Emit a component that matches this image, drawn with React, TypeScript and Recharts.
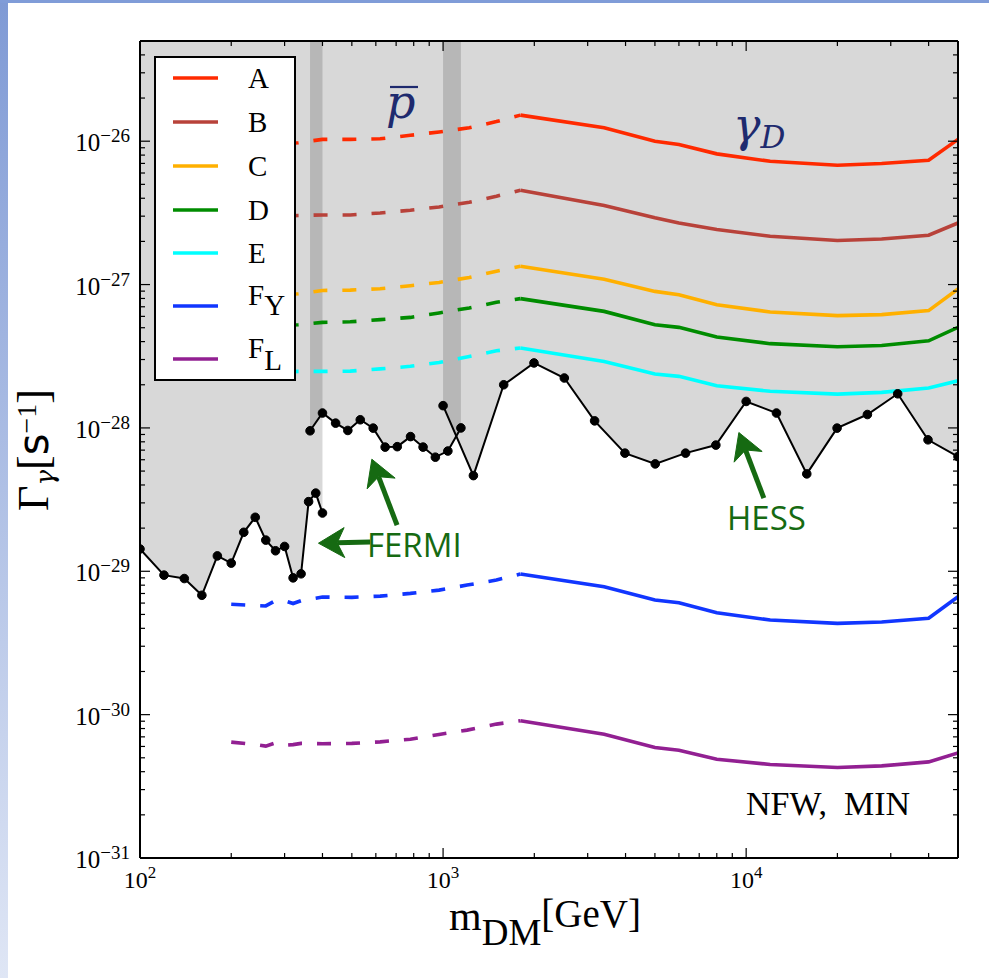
import React from "react";
import { ComposedChart, Line, Area, XAxis, YAxis, ReferenceLine } from "recharts";

/* ── Data: x = m_DM [GeV], y = Γ_γ [1/s] ─────────────────── */

// Fermi-LAT line limits (two energy windows) and H.E.S.S. limits
const M_FERMI_LOW = [100, 120, 140, 160, 180, 200, 220, 240, 260, 280, 300, 320, 340, 360, 380, 400];
const V_FERMI_LOW = [1.43e-29, 9.4e-30, 8.9e-30, 6.8e-30, 1.28e-29, 1.14e-29, 1.87e-29, 2.38e-29, 1.65e-29, 1.39e-29, 1.49e-29, 9.0e-30, 9.6e-30, 3.06e-29, 3.51e-29, 2.55e-29];

const M_FERMI_HIGH = [364, 400, 442, 485, 533, 588, 644, 706, 781, 859, 943, 1037, 1145];
const V_FERMI_HIGH = [9.55e-29, 1.27e-28, 1.08e-28, 9.6e-29, 1.14e-28, 9.97e-29, 7.35e-29, 7.4e-29, 8.7e-29, 7.35e-29, 6.25e-29, 6.9e-29, 1.0e-28];

const M_HESS = [1000, 1259, 1585, 1995, 2512, 3162, 3981, 5012, 6310, 7943, 10000, 12589, 15849, 19953, 25119, 31623, 39811, 50000];
const V_HESS = [1.43e-28, 4.65e-29, 2.0e-28, 2.84e-28, 2.23e-28, 1.12e-28, 6.67e-29, 5.61e-29, 6.67e-29, 7.59e-29, 1.53e-28, 1.27e-28, 4.78e-29, 9.97e-29, 1.24e-28, 1.73e-28, 8.26e-29, 6.31e-29];

// model predictions: dashed below 1.8 TeV, solid above
const M_DASH_AE = [300, 333, 400, 494, 620, 780, 970, 1220, 1500, 1800];
const M_DASH_F = [200, 240, 260, 280, 300, 320, 340, 400, 500, 620, 780, 970, 1200, 1500, 1800];
const M_SOLID = [1800, 3400, 5000, 6000, 8000, 12000, 20000, 28000, 40000, 50000];

const A_DASH = [9.6e-27, 9.75e-27, 1.03e-26, 1.03e-26, 1.04e-26, 1.1e-26, 1.16e-26, 1.24e-26, 1.37e-26, 1.52e-26];
const B_DASH = [3.0e-27, 3.03e-27, 3.06e-27, 3.06e-27, 3.16e-27, 3.3e-27, 3.48e-27, 3.75e-27, 4.13e-27, 4.55e-27];
const C_DASH = [8.5e-28, 8.63e-28, 9.1e-28, 9.15e-28, 9.36e-28, 9.82e-28, 1.035e-27, 1.12e-27, 1.24e-27, 1.34e-27];
const D_DASH = [5.2e-28, 5.25e-28, 5.45e-28, 5.5e-28, 5.69e-28, 5.9e-28, 6.34e-28, 6.87e-28, 7.52e-28, 7.98e-28];
const E_DASH = [2.45e-28, 2.48e-28, 2.48e-28, 2.49e-28, 2.58e-28, 2.69e-28, 2.86e-28, 3.15e-28, 3.45e-28, 3.61e-28];
const FY_DASH = [5.89e-30, 5.77e-30, 5.73e-30, 6.24e-30, 6.24e-30, 5.96e-30, 6.24e-30, 6.61e-30, 6.58e-30, 6.71e-30, 7.01e-30, 7.39e-30, 8.01e-30, 8.69e-30, 9.57e-30];
const FL_DASH = [6.43e-31, 6.18e-31, 6.03e-31, 6.36e-31, 6.12e-31, 6.18e-31, 6.3e-31, 6.27e-31, 6.3e-31, 6.46e-31, 6.74e-31, 7.28e-31, 7.8e-31, 8.59e-31, 9.06e-31];

const A_SOLID = [1.52e-26, 1.24e-26, 1.0e-26, 9.48e-27, 8.16e-27, 7.24e-27, 6.79e-27, 6.99e-27, 7.36e-27, 1.03e-26];
const B_SOLID = [4.55e-27, 3.56e-27, 2.92e-27, 2.69e-27, 2.42e-27, 2.17e-27, 2.03e-27, 2.08e-27, 2.21e-27, 2.69e-27];
const C_SOLID = [1.34e-27, 1.09e-27, 8.96e-28, 8.5e-28, 7.24e-28, 6.44e-28, 6.07e-28, 6.17e-28, 6.58e-28, 9.31e-28];
const D_SOLID = [7.98e-28, 6.5e-28, 5.25e-28, 5.03e-28, 4.31e-28, 3.87e-28, 3.68e-28, 3.76e-28, 4.05e-28, 5.03e-28];
const E_SOLID = [3.61e-28, 2.91e-28, 2.38e-28, 2.29e-28, 1.97e-28, 1.8e-28, 1.72e-28, 1.77e-28, 1.9e-28, 2.13e-28];
const FY_SOLID = [9.57e-30, 7.8e-30, 6.3e-30, 6.04e-30, 5.14e-30, 4.57e-30, 4.33e-30, 4.43e-30, 4.7e-30, 6.65e-30];
const FL_SOLID = [9.06e-31, 7.31e-31, 5.9e-31, 5.65e-31, 4.89e-31, 4.49e-31, 4.28e-31, 4.39e-31, 4.68e-31, 5.41e-31];

// axis ticks
const X_TICKS = [100, 200, 300, 400, 500, 600, 700, 800, 900, 1000, 2000, 3000, 4000, 5000, 6000, 7000, 8000, 9000, 10000, 20000, 30000, 40000, 50000];
const Y_TICKS = [
  1e-31, 2e-31, 3e-31, 4e-31, 5e-31, 6e-31, 7e-31, 8e-31, 9e-31,
  1e-30, 2e-30, 3e-30, 4e-30, 5e-30, 6e-30, 7e-30, 8e-30, 9e-30,
  1e-29, 2e-29, 3e-29, 4e-29, 5e-29, 6e-29, 7e-29, 8e-29, 9e-29,
  1e-28, 2e-28, 3e-28, 4e-28, 5e-28, 6e-28, 7e-28, 8e-28, 9e-28,
  1e-27, 2e-27, 3e-27, 4e-27, 5e-27, 6e-27, 7e-27, 8e-27, 9e-27,
  1e-26, 2e-26, 3e-26, 4e-26, 5e-26,
];

// arrow annotations, [m, Γ] tail -> tip
const ARROWS = [
  { from: [705, 2.1e-29], to: [582, 6.05e-29] },
  { from: [575, 1.6e-29], to: [388, 1.57e-29] },
  { from: [11440, 3.24e-29], to: [9461, 9.29e-29] },
];

/* ── Styles ──────────────────────────────────── */
const W = 989;
const H = 978;
const SERIF = '"Liberation Serif", "Times New Roman", serif';
const MATH = '"DejaVu Serif", serif';
const SANS = '"Open Sans", "DejaVu Sans", sans-serif';
const GREEN = "#166a12";
const NAVY = "#1e2a6e";

const MODELS = [
  { key: "A", sub: "", color: "#ff2a00", dash: A_DASH, solid: A_SOLID, mDash: M_DASH_AE },
  { key: "B", sub: "", color: "#b8423a", dash: B_DASH, solid: B_SOLID, mDash: M_DASH_AE },
  { key: "C", sub: "", color: "#ffb000", dash: C_DASH, solid: C_SOLID, mDash: M_DASH_AE },
  { key: "D", sub: "", color: "#008c00", dash: D_DASH, solid: D_SOLID, mDash: M_DASH_AE },
  { key: "E", sub: "", color: "#00ffff", dash: E_DASH, solid: E_SOLID, mDash: M_DASH_AE },
  { key: "F", sub: "Y", color: "#1136ff", dash: FY_DASH, solid: FY_SOLID, mDash: M_DASH_F },
  { key: "F", sub: "L", color: "#922092", dash: FL_DASH, solid: FL_SOLID, mDash: M_DASH_F },
];
const LEGEND_ROW_Y = [78, 122, 166, 210, 253, 306, 359];

const pts = (ms: number[], vs: number[]) => ms.map((m, i) => ({ m, v: vs[i] }));
const isMajor = (v: number) => Math.abs(Math.log10(v) - Math.round(Math.log10(v))) < 1e-6;
const expLabel = (v: number) => {
  const n = Math.round(Math.log10(v));
  return n < 0 ? "\u2212" + Math.abs(n) : String(n);
};

/* ── Ticks (drawn inward, matplotlib style) ─── */
function BottomTick({ x, y, payload }: any) {
  const major = isMajor(payload.value);
  return (
    <g>
      <line x1={x} x2={x} y1={y} y2={y - (major ? 10 : 5)} stroke="#000" strokeWidth={1.2} />
      {major && (
        <text x={x} y={y + 30} textAnchor="middle" fontFamily={SERIF} fontSize={24} fill="#000">
          10<tspan dy={-10} fontSize={17}>{expLabel(payload.value)}</tspan>
        </text>
      )}
    </g>
  );
}

function TopTick({ x, y, payload }: any) {
  const major = isMajor(payload.value);
  return <line x1={x} x2={x} y1={y} y2={y + (major ? 10 : 5)} stroke="#000" strokeWidth={1.2} />;
}

function LeftTick({ x, y, payload }: any) {
  const major = isMajor(payload.value);
  return (
    <g>
      <line x1={x} x2={x + (major ? 10 : 5)} y1={y} y2={y} stroke="#000" strokeWidth={1.2} />
      {major && (
        <text x={x - 10} y={y + 10} textAnchor="end" fontFamily={SERIF} fontSize={25} fill="#000">
          10<tspan dy={-9} fontSize={19}>{expLabel(payload.value)}</tspan>
        </text>
      )}
    </g>
  );
}

function RightTick({ x, y, payload }: any) {
  const major = isMajor(payload.value);
  return <line x1={x} x2={x - (major ? 10 : 5)} y1={y} y2={y} stroke="#000" strokeWidth={1.2} />;
}

function ArrowShape(p: any) {
  const { x1, y1, x2, y2 } = p;
  const dx = x2 - x1;
  const dy = y2 - y1;
  const len = Math.hypot(dx, dy) || 1;
  const ux = dx / len;
  const uy = dy / len;
  const L = 26;
  const Wd = 15;
  const bx = x2 - ux * L;
  const by = y2 - uy * L;
  const nx = x2 - ux * L * 0.72;
  const ny = y2 - uy * L * 0.72;
  const head = `${x2},${y2} ${bx - uy * Wd},${by + ux * Wd} ${nx},${ny} ${bx + uy * Wd},${by - ux * Wd}`;
  return (
    <g>
      <line x1={x1} y1={y1} x2={nx} y2={ny} stroke={GREEN} strokeWidth={5} />
      <polygon points={head} fill={GREEN} stroke={GREEN} strokeWidth={1} strokeLinejoin="round" />
    </g>
  );
}

const axisLine = { stroke: "#000", strokeWidth: 2 };

export default function App() {
  return (
    <div style={{ position: "absolute", left: 0, top: 0, width: W, height: H, background: "#fff", overflow: "hidden" }}>
      {/* slide frame strips */}
      <div style={{ position: "absolute", left: 0, top: 0, width: 8, height: H, background: "linear-gradient(#7f9ad5, #dfe6f5)" }} />
      <div style={{ position: "absolute", left: 0, top: 0, width: W, height: 3, background: "#809cd8" }} />

      <div style={{ position: "absolute", left: 0, top: 0 }}>
        <ComposedChart width={W} height={H} margin={{ top: 31, right: 21, bottom: 90, left: 80 }}>
          <XAxis
            xAxisId="b" dataKey="m" type="number" scale="log" domain={[100, 50000]} allowDataOverflow
            ticks={X_TICKS} interval={0} tick={<BottomTick />} tickLine={false} tickSize={0} tickMargin={0}
            height={30} axisLine={axisLine}
          />
          <XAxis
            xAxisId="t" orientation="top" dataKey="m" type="number" scale="log" domain={[100, 50000]} allowDataOverflow
            ticks={X_TICKS} interval={0} tick={<TopTick />} tickLine={false} tickSize={0} tickMargin={0}
            height={10} axisLine={axisLine}
          />
          <YAxis
            yAxisId="l" dataKey="v" type="number" scale="log" domain={[1e-31, 5e-26]} allowDataOverflow
            ticks={Y_TICKS} interval={0} tick={<LeftTick />} tickLine={false} tickSize={0} tickMargin={0}
            width={60} axisLine={axisLine}
          />
          <YAxis
            yAxisId="r" orientation="right" dataKey="v" type="number" scale="log" domain={[1e-31, 5e-26]} allowDataOverflow
            ticks={Y_TICKS} interval={0} tick={<RightTick />} tickLine={false} tickSize={0} tickMargin={0}
            width={10} axisLine={axisLine}
          />

          {/* excluded regions (overlaps darken) */}
          {[pts(M_FERMI_LOW, V_FERMI_LOW), pts(M_FERMI_HIGH, V_FERMI_HIGH), pts(M_HESS, V_HESS)].map((d, i) => (
            <Area
              key={`ex${i}`} xAxisId="b" yAxisId="l" data={d} dataKey="v" type="linear" baseValue="dataMax"
              fill="#000" fillOpacity={0.153} stroke="none" dot={false} activeDot={false} isAnimationActive={false}
            />
          ))}

          {MODELS.map((s, i) => (
            <Line
              key={`d${i}`} xAxisId="b" yAxisId="l" data={pts(s.mDash, s.dash)} dataKey="v" type="linear"
              stroke={s.color} strokeWidth={3.6} strokeDasharray="14 15" dot={false} activeDot={false}
              isAnimationActive={false}
            />
          ))}
          {MODELS.map((s, i) => (
            <Line
              key={`s${i}`} xAxisId="b" yAxisId="l" data={pts(M_SOLID, s.solid)} dataKey="v" type="linear"
              stroke={s.color} strokeWidth={3.6} dot={false} activeDot={false} isAnimationActive={false}
            />
          ))}

          {[pts(M_FERMI_LOW, V_FERMI_LOW), pts(M_FERMI_HIGH, V_FERMI_HIGH), pts(M_HESS, V_HESS)].map((d, i) => (
            <Line
              key={`lim${i}`} xAxisId="b" yAxisId="l" data={d} dataKey="v" type="linear" stroke="#000" strokeWidth={2}
              dot={{ r: 4.3, fill: "#000", stroke: "#000", strokeWidth: 1 }} activeDot={false} isAnimationActive={false}
            />
          ))}

          {ARROWS.map((a, i) => (
            <ReferenceLine
              key={`ar${i}`} xAxisId="b" yAxisId="l" ifOverflow="visible"
              segment={[{ x: a.from[0], y: a.from[1] }, { x: a.to[0], y: a.to[1] }]}
              shape={ArrowShape}
            />
          ))}
        </ComposedChart>
      </div>

      {/* labels, legend and text annotations */}
      <svg width={W} height={H} style={{ position: "absolute", left: 0, top: 0, pointerEvents: "none" }}>
        {/* legend */}
        <rect x={155} y={57} width={140} height={323} fill="#fff" stroke="#000" strokeWidth={2} />
        {MODELS.map((s, i) => {
          const ry = LEGEND_ROW_Y[i];
          return (
            <g key={`lg${i}`}>
              <line x1={173} x2={218} y1={ry} y2={ry} stroke={s.color} strokeWidth={3.4} />
              <text x={248} y={s.sub ? ry - 1 : ry + 10} fontFamily={SERIF} fontSize={29} fill="#000">
                {s.key}
                {s.sub && <tspan dy={s.sub === "L" ? 12 : 10}>{s.sub}</tspan>}
              </text>
            </g>
          );
        })}

        {/* axis titles */}
        <text transform="translate(48,511) rotate(-90)" fontFamily={SERIF} fontSize={44} fill="#000">
          Γ<tspan fontFamily={MATH} fontStyle="italic" fontSize={26} dy={6}>γ</tspan>
          <tspan dy={-6}>[</tspan>
          <tspan fontFamily={'"DejaVu Sans", sans-serif'} fontSize={42}>s</tspan>
          <tspan fontSize={28} dy={-12}>{"\u2212"}1</tspan>
          <tspan dy={12}>]</tspan>
        </text>
        <text x={449} y={930} fontFamily={SERIF} fontSize={42} fill="#000">
          m<tspan fontSize={37} dy={15}>DM</tspan>
          <tspan fontSize={39} dy={-18}>[GeV]</tspan>
        </text>

        {/* in-plot annotations */}
        <text x={386} y={118} fontFamily={MATH} fontStyle="italic" fontSize={46} fill={NAVY}>p</text>
        <line x1={390} x2={418} y1={87} y2={87} stroke={NAVY} strokeWidth={2.2} />
        <text x={733} y={141} fontFamily={MATH} fontStyle="italic" fontSize={46} fill={NAVY}>
          γ<tspan fontSize={31} dy={7}>D</tspan>
        </text>
        <text x={367} y={557} fontFamily={SANS} fontSize={33} fill={GREEN}>FERMI</text>
        <text x={727} y={530} fontFamily={SANS} fontSize={33} fill={GREEN}>HESS</text>
        <text x={746} y={815} fontFamily={SERIF} fontSize={34} fill="#000" style={{ whiteSpace: "pre" }}>
          {"NFW,  MIN"}
        </text>
      </svg>
    </div>
  );
}
